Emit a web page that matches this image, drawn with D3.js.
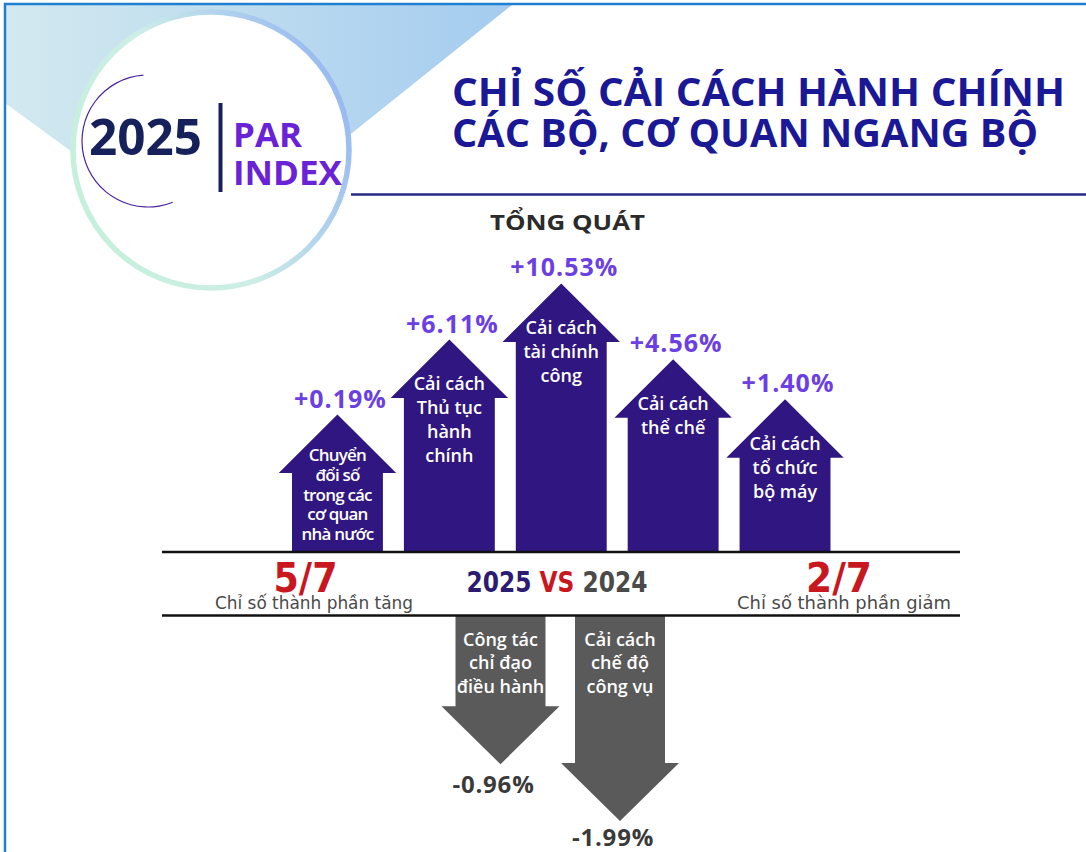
<!DOCTYPE html>
<html>
<head>
<meta charset="utf-8">
<script src="https://cdn.jsdelivr.net/npm/d3@7"></script>
<style>
  body { margin: 0; background: #ffffff; }
  svg { display: block; }
</style>
</head>
<body>
<svg id="chart" width="1086" height="852"></svg>
<script>
// ---------------- DATA ----------------
const upCategories = [
  "Chuyển đổi số trong các cơ quan nhà nước",
  "Cải cách Thủ tục hành chính",
  "Cải cách tài chính công",
  "Cải cách thể chế",
  "Cải cách tổ chức bộ máy"
];
const upValues = [0.19, 6.11, 10.53, 4.56, 1.40];
const upLabelLines = [
  ["Chuyển", "đổi số", "trong các", "cơ quan", "nhà nước"],
  ["Cải cách", "Thủ tục", "hành", "chính"],
  ["Cải cách", "tài chính", "công"],
  ["Cải cách", "thể chế"],
  ["Cải cách", "tổ chức", "bộ máy"]
];
const downCategories = [
  "Công tác chỉ đạo điều hành",
  "Cải cách chế độ công vụ"
];
const downValues = [-0.96, -1.99];
const downLabelLines = [
  ["Công tác", "chỉ đạo", "điều hành"],
  ["Cải cách", "chế độ", "công vụ"]
];
const titleLines = ["CHỈ SỐ CẢI CÁCH HÀNH CHÍNH", "CÁC BỘ, CƠ QUAN NGANG BỘ"];
const subtitle = "TỔNG QUÁT";
const logoYear = "2025";
const logoWords = ["PAR", "INDEX"];
const compareYears = ["2025", "VS", "2024"];
const increasedLabel = "Chỉ số thành phần tăng";
const decreasedLabel = "Chỉ số thành phần giảm";
const totalComponents = 7;

// ---------------- SETUP ----------------
const svg = d3.select("#chart");
const W = 1086, H = 852;
const defs = svg.append("defs");

const bgGrad = defs.append("linearGradient").attr("id", "bgGrad")
  .attr("x1", "0").attr("x2", "1").attr("y1", "0").attr("y2", "0");
bgGrad.append("stop").attr("offset", "0%").attr("stop-color", "#d3e9ef");
bgGrad.append("stop").attr("offset", "100%").attr("stop-color", "#a4ccef");

const ringGrad = defs.append("linearGradient").attr("id", "ringGrad")
  .attr("gradientUnits", "userSpaceOnUse")
  .attr("x1", 70).attr("y1", 220).attr("x2", 352).attr("y2", 90);
ringGrad.append("stop").attr("offset", "0%").attr("stop-color", "#c4f0da");
ringGrad.append("stop").attr("offset", "45%").attr("stop-color", "#cdeee6");
ringGrad.append("stop").attr("offset", "100%").attr("stop-color", "#94b6f2");

const arcGrad = defs.append("linearGradient").attr("id", "arcGrad")
  .attr("gradientUnits", "userSpaceOnUse")
  .attr("x1", 95).attr("y1", 0).attr("x2", 185).attr("y2", 0);
arcGrad.append("stop").attr("offset", "0%").attr("stop-color", "#4a23a0").attr("stop-opacity", 1);
arcGrad.append("stop").attr("offset", "100%").attr("stop-color", "#4a23a0").attr("stop-opacity", 0);

// ---------------- BACKGROUND / LOGO ----------------
svg.append("polygon")
  .attr("points", [[5,5],[512,5],[206,250],[5,103]].map(p => p.join(",")).join(" "))
  .attr("fill", "url(#bgGrad)");

svg.append("circle").attr("cx", 211).attr("cy", 150).attr("r", 138)
  .attr("fill", "#ffffff").attr("stroke", "url(#ringGrad)").attr("stroke-width", 5.5);

const deg = Math.PI / 180;
svg.append("path")
  .attr("transform", "translate(148,141)")
  .attr("d", d3.arc().innerRadius(65.4).outerRadius(66.6).startAngle(158 * deg).endAngle(356 * deg)())
  .attr("fill", "url(#arcGrad)");

svg.append("text").text(logoYear)
  .attr("x", 89).attr("y", 155)
  .attr("font-family", "'Open Sans', sans-serif").attr("font-weight", 700)
  .attr("font-size", 50).attr("fill", "#16205a")
  .attr("textLength", 113).attr("lengthAdjust", "spacingAndGlyphs");

svg.append("rect").attr("x", 218.5).attr("y", 103).attr("width", 4).attr("height", 89).attr("fill", "#16205a");

logoWords.forEach((w, i) => {
  svg.append("text").text(w)
    .attr("x", 233).attr("y", [146.5, 184.5][i])
    .attr("font-family", "'Open Sans', sans-serif").attr("font-weight", 700)
    .attr("font-size", 34).attr("fill", "#6a22d6")
    .attr("textLength", [69, 109][i]).attr("lengthAdjust", "spacingAndGlyphs");
});

// ---------------- TITLE ----------------
titleLines.forEach((t, i) => {
  svg.append("text").text(t)
    .attr("x", 452).attr("y", [105.5, 147][i])
    .attr("font-family", "'Open Sans', sans-serif").attr("font-weight", 700)
    .attr("font-size", 39).attr("fill", "#1b1896")
    .attr("textLength", [613, 586][i]).attr("lengthAdjust", "spacingAndGlyphs");
});
svg.append("line").attr("x1", 351).attr("x2", W).attr("y1", 194.5).attr("y2", 194.5)
  .attr("stroke", "#2a2785").attr("stroke-width", 2.5);

svg.append("text").text(subtitle)
  .attr("x", 490).attr("y", 230)
  .attr("font-family", "'Open Sans', sans-serif").attr("font-weight", 700)
  .attr("font-size", 22).attr("fill", "#2b2b2b")
  .attr("textLength", 155).attr("lengthAdjust", "spacingAndGlyphs");

// ---------------- SCALES ----------------
const upBase = 553;
const downBase = 615;
const xUp = d3.scaleBand().domain(upCategories).range([292, 830.5]).paddingInner(0.1875).paddingOuter(0);
const hUp = d3.scaleLinear().domain([0, 11]).range([134, 273.5]);
const xDown = d3.scaleBand().domain(downCategories).range([455.5, 665]).paddingInner(0.247).paddingOuter(0);
const hDown = d3.scaleLinear().domain([0, 2]).range([94.4, 204.5]);

function upArrow(cx, y0, y1, sw, hw, hh) {
  const p = d3.path();
  p.moveTo(cx - sw / 2, y0);
  p.lineTo(cx - sw / 2, y1 + hh);
  p.lineTo(cx - hw / 2, y1 + hh);
  p.lineTo(cx, y1);
  p.lineTo(cx + hw / 2, y1 + hh);
  p.lineTo(cx + sw / 2, y1 + hh);
  p.lineTo(cx + sw / 2, y0);
  p.closePath();
  return p.toString();
}
function downArrow(cx, y0, y1, sw, hw, hh) {
  const p = d3.path();
  p.moveTo(cx - sw / 2, y0);
  p.lineTo(cx - sw / 2, y1 - hh);
  p.lineTo(cx - hw / 2, y1 - hh);
  p.lineTo(cx, y1);
  p.lineTo(cx + hw / 2, y1 - hh);
  p.lineTo(cx + sw / 2, y1 - hh);
  p.lineTo(cx + sw / 2, y0);
  p.closePath();
  return p.toString();
}

const fmt = v => (v > 0 ? "+" : "-") + Math.abs(v).toFixed(2) + "%";

// ---------------- UP ARROWS ----------------
const upData = upCategories.map((c, i) => ({ c, v: upValues[i], lines: upLabelLines[i] }));
const upG = svg.append("g").selectAll("g").data(upData).join("g");
upG.each(function (d) {
  const g = d3.select(this);
  const sw = xUp.bandwidth();
  const cx = xUp(d.c) + sw / 2;
  const tip = upBase - 2 - hUp(d.v);
  const hh = 58.5;
  g.append("path").attr("d", upArrow(cx, upBase, tip, sw, sw + 26.5, hh)).attr("fill", "#301680");
  g.append("text").text(fmt(d.v))
    .attr("x", cx + 3).attr("y", tip - 7).attr("text-anchor", "middle")
    .attr("font-family", "'Open Sans', sans-serif").attr("font-weight", 700)
    .attr("font-size", 25).attr("letter-spacing", 1).attr("fill", "#6b40e2");
  const many = d.lines.length > 4;
  const step = many ? 19.8 : 24;
  const first = tip + hh - (many ? 12 : 8);
  const t = g.append("text").attr("text-anchor", "middle")
    .attr("font-family", "'Open Sans', sans-serif").attr("font-weight", 600)
    .attr("font-size", many ? 17 : 18).attr("letter-spacing", many ? -0.8 : 0)
    .attr("fill", "#ffffff");
  d.lines.forEach((ln, k) => {
    t.append("tspan").attr("x", cx).attr("y", first + k * step).text(ln);
  });
});

// ---------------- DOWN ARROWS ----------------
const downData = downCategories.map((c, i) => ({ c, v: downValues[i], lines: downLabelLines[i] }));
const downG = svg.append("g").selectAll("g").data(downData).join("g");
downG.each(function (d) {
  const g = d3.select(this);
  const sw = xDown.bandwidth();
  const cx = xDown(d.c) + sw / 2;
  const tip = downBase + 2 + hDown(Math.abs(d.v));
  const hh = 58;
  g.append("path").attr("d", downArrow(cx, downBase, tip, sw, sw + 28, hh)).attr("fill", "#5a5a5a");
  g.append("text").text(fmt(d.v))
    .attr("x", cx - 7).attr("y", Math.min(tip + 29, 846)).attr("text-anchor", "middle")
    .attr("font-family", "'Open Sans', sans-serif").attr("font-weight", 700)
    .attr("font-size", 24).attr("letter-spacing", 0.8).attr("fill", "#3a3a3a");
  const t = g.append("text").attr("text-anchor", "middle")
    .attr("font-family", "'Open Sans', sans-serif").attr("font-weight", 600)
    .attr("font-size", 18).attr("fill", "#ffffff");
  d.lines.forEach((ln, k) => {
    t.append("tspan").attr("x", cx).attr("y", downBase + 31 + k * 23.3).text(ln);
  });
});

// ---------------- CENTER BAND ----------------
svg.append("line").attr("x1", 162).attr("x2", 960).attr("y1", 552).attr("y2", 552)
  .attr("stroke", "#111111").attr("stroke-width", 2.5);
svg.append("line").attr("x1", 162).attr("x2", 960).attr("y1", 615.5).attr("y2", 615.5)
  .attr("stroke", "#111111").attr("stroke-width", 2.5);

const condensed = "'Liberation Sans Narrow', 'DejaVu Sans Condensed', 'Roboto', sans-serif";
function ratio(x, y, str, len) {
  svg.append("text").text(str)
    .attr("x", x).attr("y", y).attr("text-anchor", "middle")
    .attr("font-family", condensed).attr("font-weight", 700)
    .attr("font-size", 40).attr("fill", "#c8171f")
    .attr("textLength", len).attr("lengthAdjust", "spacingAndGlyphs");
}
ratio(305.5, 592, upValues.length + "/" + totalComponents, 64);
ratio(839, 592, downValues.length + "/" + totalComponents, 66);

function caption(x, y, str, len) {
  svg.append("text").text(str)
    .attr("x", x).attr("y", y).attr("text-anchor", "middle")
    .attr("font-family", condensed).attr("font-weight", 400)
    .attr("font-size", 18).attr("fill", "#4a4a4a")
    .attr("textLength", len).attr("lengthAdjust", "spacingAndGlyphs");
}
caption(314, 609, increasedLabel, 198);
caption(844, 609, decreasedLabel, 214);

const vs = svg.append("text").attr("x", 557).attr("y", 592).attr("text-anchor", "middle")
  .attr("font-family", condensed).attr("font-weight", 700).attr("font-size", 28)
  .attr("textLength", 181).attr("lengthAdjust", "spacingAndGlyphs");
vs.append("tspan").text(compareYears[0]).attr("fill", "#2c1b70");
vs.append("tspan").text(" " + compareYears[1] + " ").attr("fill", "#c8171f");
vs.append("tspan").text(compareYears[2]).attr("fill", "#4a4a4a");

// ---------------- FRAME ----------------
svg.append("rect").attr("x", 5).attr("y", 4).attr("width", W + 20).attr("height", H + 20)
  .attr("fill", "none").attr("stroke", "#1f80d2").attr("stroke-width", 2.5);
</script>
</body>
</html>
